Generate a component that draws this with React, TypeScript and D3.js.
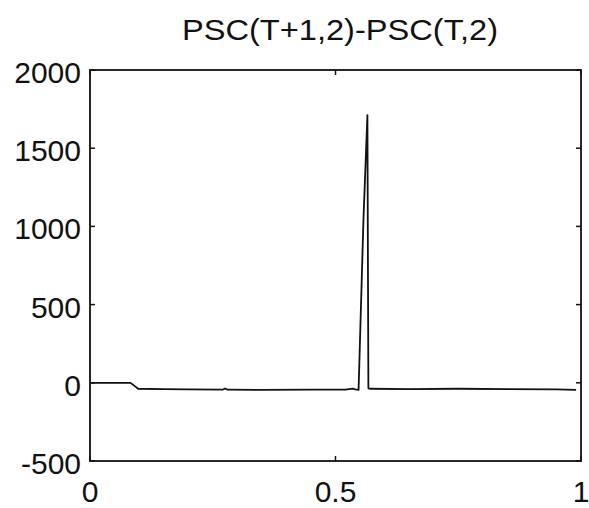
import React, { useEffect, useRef } from "react";
import * as d3 from "d3";

// trace: x in [0,1], value in PSC units
const xs = [0, 0.04, 0.082, 0.09, 0.098, 0.15, 0.2, 0.27, 0.275, 0.28, 0.35, 0.45, 0.52, 0.535, 0.54, 0.547, 0.557, 0.565, 0.566, 0.567, 0.57, 0.65, 0.75, 0.85, 0.95, 0.99];
const ys = [0, 0, 0, -18, -38, -40, -42, -44, -36, -44, -45, -44, -43, -37, -42, -45, 1050, 1712, 800, -35, -38, -40, -38, -40, -42, -45];

const yTicks = [-500, 0, 500, 1000, 1500, 2000];
const xTicks = [0, 0.5, 1];
const title = "PSC(T+1,2)-PSC(T,2)";

const W = 589, H = 508;
const margin = { top: 70, right: 8, bottom: 47, left: 90 };

export default function App() {
  const ref = useRef<SVGSVGElement>(null);

  useEffect(() => {
    const svg = d3.select(ref.current);
    svg.selectAll("*").remove();

    const x = d3.scaleLinear().domain([0, 1]).range([margin.left, W - margin.right]);
    const y = d3.scaleLinear().domain([-500, 2000]).range([H - margin.bottom, margin.top]);

    const font = "Liberation Sans, Arial, sans-serif";

    svg.append("rect")
      .attr("x", x(0)).attr("y", y(2000))
      .attr("width", x(1) - x(0)).attr("height", y(-500) - y(2000))
      .attr("fill", "none").attr("stroke", "#111").attr("stroke-width", 1.8);

    // inward ticks, both sides
    yTicks.forEach((t) => {
      svg.append("line").attr("x1", x(0)).attr("x2", x(0) + 5).attr("y1", y(t)).attr("y2", y(t))
        .attr("stroke", "#111").attr("stroke-width", 1.5);
      svg.append("line").attr("x1", x(1)).attr("x2", x(1) - 5).attr("y1", y(t)).attr("y2", y(t))
        .attr("stroke", "#111").attr("stroke-width", 1.5);
      svg.append("text").attr("x", x(0) - 9).attr("y", y(t) + 13)
        .attr("text-anchor", "end").attr("font-family", font).attr("font-size", 30)
        .attr("fill", "#111").text(String(t));
    });
    xTicks.forEach((t) => {
      svg.append("line").attr("x1", x(t)).attr("x2", x(t)).attr("y1", y(-500)).attr("y2", y(-500) - 5)
        .attr("stroke", "#111").attr("stroke-width", 1.5);
      svg.append("line").attr("x1", x(t)).attr("x2", x(t)).attr("y1", y(2000)).attr("y2", y(2000) + 5)
        .attr("stroke", "#111").attr("stroke-width", 1.5);
      svg.append("text").attr("x", x(t)).attr("y", 502)
        .attr("text-anchor", "middle").attr("font-family", font).attr("font-size", 30)
        .attr("fill", "#111").text(String(t));
    });

    const line = d3.line<number>().x((d, i) => x(xs[i])).y((d) => y(d));
    svg.append("path").datum(ys).attr("d", line)
      .attr("fill", "none").attr("stroke", "#111").attr("stroke-width", 1.8)
      .attr("stroke-linejoin", "round");

    svg.append("text").attr("x", 340).attr("y", 40)
      .attr("text-anchor", "middle").attr("font-family", font).attr("font-size", 30)
      .attr("textLength", 316).attr("lengthAdjust", "spacingAndGlyphs")
      .attr("fill", "#111").text(title);
  }, []);

  return (
    <svg ref={ref} width={W} height={H}
      style={{ position: "absolute", left: 0, top: 0, background: "#fff" }} />
  );
}
